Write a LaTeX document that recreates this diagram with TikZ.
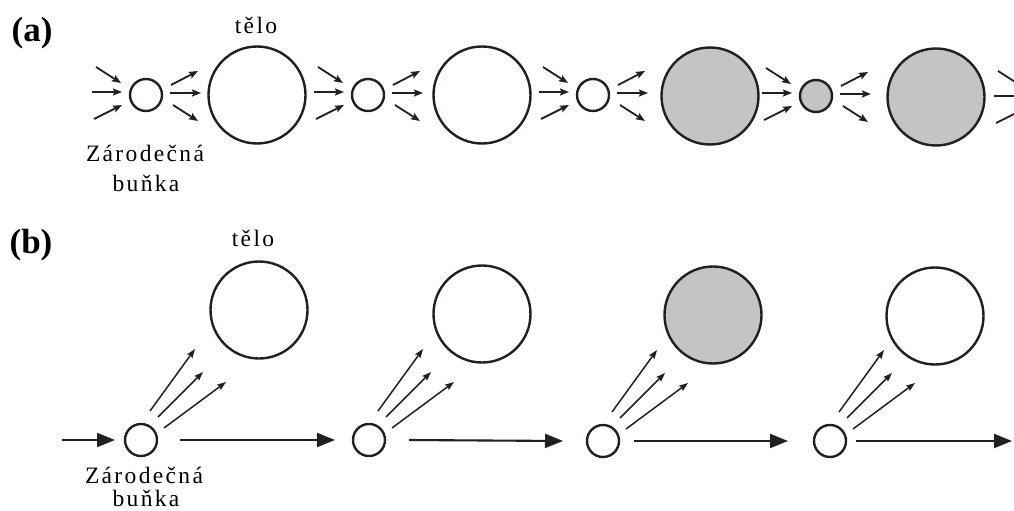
\documentclass[tikz,border=0pt]{standalone}
\usepackage{fontspec}
\setmainfont{Liberation Serif}
\newfontfamily\spacedfont[LetterSpace=10]{Liberation Serif}
\usetikzlibrary{arrows.meta,calc}
\definecolor{ink}{RGB}{35,31,32}
\definecolor{somagray}{RGB}{196,196,196}
\begin{document}
\begin{tikzpicture}[x=1pt,y=-1pt,
  cell/.style={circle,draw=ink,line width=2.4pt,inner sep=0pt,minimum size=32pt},
  body/.style={circle,draw=ink,line width=2.4pt,inner sep=0pt,minimum size=97pt},
  somafill/.style={fill=somagray},
  fan/.style={ink,line width=1.8pt,-{Stealth[length=9pt,width=7pt,inset=1.5pt]}},
  germ/.style={ink,line width=2.1pt,-{Triangle[length=18pt,width=14pt]}},
  sprout/.style={ink,line width=1.5pt,-{Stealth[length=9pt,width=6.5pt,inset=1.5pt]}},
  panel/.style={font=\fontsize{35}{35}\bfseries\selectfont,inner sep=0pt},
  caption/.style={font=\spacedfont\fontsize{23.5}{23.5}\selectfont,inner sep=0pt},
]
\useasboundingbox (0,0) rectangle (1014,511);
\clip (0,0) rectangle (1014,511);

% ---------- (a) soma produced anew from the germ line in every generation
\node[panel] (la) at (32,33) {(a)};
\node[cell] (as1) at (146,95) {};
\node[body] (ab1) at (257,95) {};
\node[cell] (as2) at (368,95) {};
\node[body] (ab2) at (482,95) {};
\node[cell] (as3) at (593,95) {};
\node[body,somafill] (ab3) at (710,96) {};
\node[cell,somafill] (as4) at (816,96) {};
\node[body,somafill] (ab4) at (936,97) {};
\coordinate (as5) at (1048,99);

\node[caption] (ta) at (256,25) {tělo};
\node[caption] (za) at (145,153) {Zárodečná};
\node[caption] (ba) at (146,183) {buňka};

% arrows converging on each germ cell
\foreach \s in {as1,as2,as3,as4,as5}{
  \draw[fan] ($(\s)+(-50,-28)$) -- ($(\s)+(-25,-12)$);
  \draw[fan] ($(\s)+(-54,-3)$) -- ($(\s)+(-24,-3)$);
  \draw[fan] ($(\s)+(-52,24)$) -- ($(\s)+(-24,10)$);
}
% arrows fanning out of each germ cell
\foreach \s in {as1,as2,as3,as4}{
  \draw[fan] ($(\s)+(25,-10)$) -- ($(\s)+(52,-24)$);
  \draw[fan] ($(\s)+(24,-2)$) -- ($(\s)+(55,-2)$);
  \draw[fan] ($(\s)+(27,10)$) -- ($(\s)+(52,26)$);
}

% ---------- (b) continuous germ line, soma split off in each generation
\node[panel] (lb) at (31,245) {(b)};
\node[cell] (bs1) at (141,440) {};
\node[cell] (bs2) at (369,440) {};
\node[cell] (bs3) at (603,441) {};
\node[cell] (bs4) at (830,441) {};
\node[body] (bb1) at (259,310) {};
\node[body] (bb2) at (482,314) {};
\node[body,somafill] (bb3) at (713,315) {};
\node[body] (bb4) at (935,316) {};
\coordinate (bin) at (62,440);
\coordinate (bout) at (1012,441);

\node[caption] (tb) at (253,238) {tělo};
\node[caption] (zb) at (144,475) {Zárodečná};
\node[caption] (bb) at (146,498) {buňka};

% germ line
\draw[germ] (bin) -- ($(bs1)+(-26,0)$);
\draw[germ] ($(bs1)+(39,0)$) -- ($(bs2)+(-34,0)$);
\draw[germ] ($(bs2)+(40,0)$) -- ($(bs3)+(-40,0)$);
\draw[germ] ($(bs3)+(31,0)$) -- ($(bs4)+(-42,0)$);
\draw[germ] ($(bs4)+(26,0)$) -- (bout);

% soma arising from each germ cell
\foreach \s in {bs1,bs2,bs3,bs4}{
  \draw[sprout] ($(\s)+(9,-29)$) -- ($(\s)+(54,-91)$);
  \draw[sprout] ($(\s)+(17,-23)$) -- ($(\s)+(62,-68)$);
  \draw[sprout] ($(\s)+(23,-12)$) -- ($(\s)+(85,-58)$);
}
\end{tikzpicture}
\end{document}
